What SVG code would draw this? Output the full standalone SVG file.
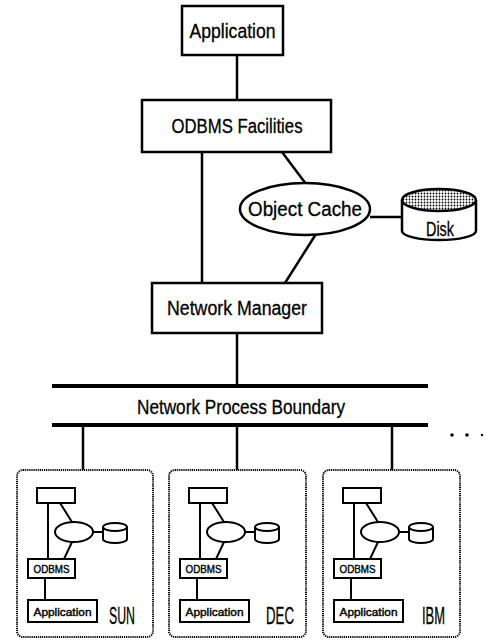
<svg xmlns="http://www.w3.org/2000/svg" width="486" height="640" viewBox="0 0 486 640">
<style>
.box{fill:#fff;stroke:#000;stroke-width:2.5}
.sbox{fill:#fff;stroke:#000;stroke-width:2}
.ln{stroke:#000;stroke-width:2.5;fill:none}
.sln{stroke:#000;stroke-width:2;fill:none}
.bar{stroke:#000;stroke-width:4}
.t{font-family:"Liberation Sans",Arial,sans-serif;font-size:20px;fill:#000;text-anchor:middle;stroke:#000;stroke-width:0.3}
.st{font-family:"Liberation Sans",Arial,sans-serif;font-size:11px;fill:#000;text-anchor:middle;stroke:#000;stroke-width:0.4}
.lbl{font-family:"Liberation Sans",Arial,sans-serif;font-size:23px;fill:#000;stroke:#000;stroke-width:0.3}
.dot{fill:none;stroke:#000;stroke-width:2;stroke-dasharray:1.2 0.9}
</style>
<defs>
<pattern id="dots" width="3" height="3" patternUnits="userSpaceOnUse">
<rect width="3" height="3" fill="#fff"/>
<circle cx="1.5" cy="1.5" r="0.9" fill="#000"/>
</pattern>
<g id="mini">
<line class="sln" x1="31" y1="503" x2="31" y2="559"/>
<line class="sln" x1="43" y1="503" x2="55" y2="522"/>
<line class="sln" x1="55" y1="542" x2="47" y2="559"/>
<line class="sln" x1="76" y1="532" x2="86" y2="532"/>
<line class="sln" x1="28" y1="578" x2="28" y2="600"/>
<rect class="sbox" x="20" y="488" width="38" height="15"/>
<ellipse class="sbox" cx="57" cy="532" rx="19" ry="10"/>
<path class="sbox" d="M86,527 L86,539 A12,4 0 0 0 110,539 L110,527"/>
<ellipse class="sbox" cx="98" cy="527" rx="12" ry="4"/>
<rect class="sbox" x="11" y="559" width="47" height="19"/>
<text class="st" x="34.5" y="573" font-size="10" textLength="36" lengthAdjust="spacingAndGlyphs">ODBMS</text>
<rect class="sbox" x="11" y="600" width="69" height="22"/>
<text class="st" x="45.5" y="615.5" textLength="58" lengthAdjust="spacingAndGlyphs">Application</text>
</g>
</defs>

<g id="connectors">
<line class="ln" x1="237" y1="55" x2="237" y2="100"/>
<line class="ln" x1="202" y1="152" x2="202" y2="283"/>
<line class="ln" x1="282" y1="152" x2="306" y2="184"/>
<line class="ln" x1="316" y1="234" x2="285" y2="283"/>
<line class="ln" x1="370" y1="217" x2="402" y2="217"/>
<line class="ln" x1="237" y1="333" x2="237" y2="386"/>
<line class="bar" x1="52" y1="386" x2="428" y2="386"/>
<line class="bar" x1="52" y1="425" x2="428" y2="425"/>
<line class="ln" x1="83" y1="425" x2="83" y2="470"/>
<line class="ln" x1="237" y1="425" x2="237" y2="470"/>
<line class="ln" x1="392" y1="425" x2="392" y2="470"/>
</g>

<g id="application">
<rect class="box" x="182" y="6" width="101" height="49"/>
<text class="t" x="232.5" y="38" textLength="86" lengthAdjust="spacingAndGlyphs">Application</text>
</g>
<g id="odbms-facilities">
<rect class="box" x="142" y="100" width="189" height="52"/>
<text class="t" x="237" y="133" textLength="131" lengthAdjust="spacingAndGlyphs">ODBMS  Facilities</text>
</g>
<g id="object-cache">
<ellipse class="box" cx="305" cy="209" rx="65" ry="26"/>
<text class="t" x="305" y="216" textLength="114" lengthAdjust="spacingAndGlyphs">Object Cache</text>
</g>
<g id="disk">
<path class="box" d="M402,200 L402,231 A37,9 0 0 0 476,231 L476,200"/>
<ellipse cx="439" cy="200" rx="37" ry="11" fill="url(#dots)" stroke="#000" stroke-width="2.5"/>
<text class="t" x="440" y="236" font-size="22" textLength="28" lengthAdjust="spacingAndGlyphs">Disk</text>
</g>
<g id="network-manager">
<rect class="box" x="152" y="283" width="170" height="50"/>
<text class="t" x="237" y="315" textLength="140" lengthAdjust="spacingAndGlyphs">Network Manager</text>
</g>
<g id="boundary-label">
<text class="t" x="241" y="414" textLength="208" lengthAdjust="spacingAndGlyphs">Network Process Boundary</text>
</g>
<g id="ellipsis">
<circle cx="452" cy="435" r="1.8"/>
<circle cx="467" cy="435" r="1.8"/>
<circle cx="482" cy="435" r="1.2"/>
</g>

<g id="sun">
<rect class="dot" x="17" y="470" width="136" height="167" rx="6"/>
<use href="#mini" x="17"/>
<text class="lbl" x="109" y="624" textLength="26" lengthAdjust="spacingAndGlyphs">SUN</text>
</g>
<g id="dec">
<rect class="dot" x="169" y="470" width="137" height="167" rx="6"/>
<use href="#mini" x="169"/>
<text class="lbl" x="266" y="624" textLength="28" lengthAdjust="spacingAndGlyphs">DEC</text>
</g>
<g id="ibm">
<rect class="dot" x="323" y="470" width="137" height="167" rx="6"/>
<use href="#mini" x="323"/>
<text class="lbl" x="422" y="624" textLength="23" lengthAdjust="spacingAndGlyphs">IBM</text>
</g>
</svg>
